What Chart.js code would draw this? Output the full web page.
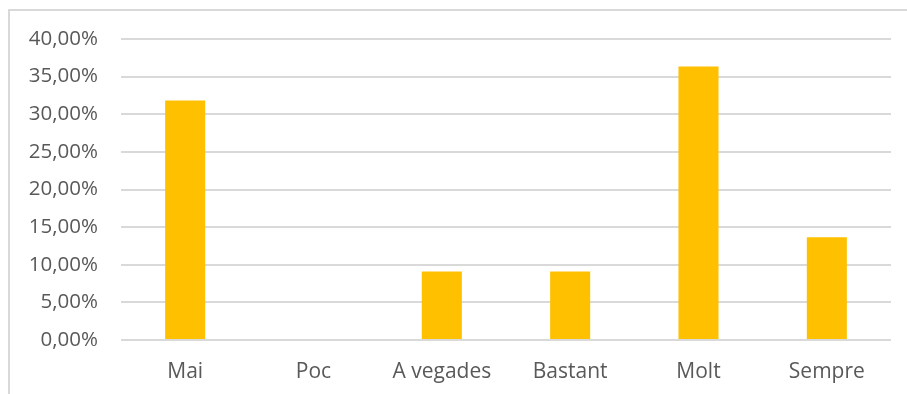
<!DOCTYPE html>
<html lang="ca">
<head>
  <meta charset="UTF-8">
  <title>Freqüència</title>
  <style>
    html, body { margin: 0; padding: 0; background: #fff; }
    #wrap { position: relative; width: 907px; height: 394px; overflow: hidden; }
    #frame {
      position: absolute; left: 8px; top: 9px; width: 920px; height: 420px;
      border-top: 2px solid #d9d9d9; border-left: 2px solid #d9d9d9;
    }
    canvas { position: absolute; left: 0; top: 0; }
  </style>
</head>
<body>
  <div id="wrap">
    <div id="frame"></div>
    <canvas id="myChart" width="907" height="394"></canvas>
  </div>
  <script src="https://cdn.jsdelivr.net/npm/chart.js"></script>
  <script>
    const categories = ['Mai', 'Poc', 'A vegades', 'Bastant', 'Molt', 'Sempre'];
    const percents = [31.82, 0, 9.09, 9.09, 36.36, 13.64];
    const yTicks = [0, 5, 10, 15, 20, 25, 30, 35, 40];

    const ctx = document.getElementById('myChart');

    new Chart(ctx, {
      type: 'bar',
      data: {
        labels: categories,
        datasets: [{
          data: percents,
          backgroundColor: '#FFC000',
          categoryPercentage: 1,
          barPercentage: 0.312
        }]
      },
      options: {
        responsive: false,
        animation: false,
        layout: { padding: { left: 0, right: 16, top: 39, bottom: 0 } },
        plugins: {
          legend: { display: false },
          tooltip: { enabled: false }
        },
        scales: {
          x: {
            grid: { display: false },
            border: { display: false },
            ticks: {
              color: '#595959',
              font: { family: 'Open Sans', size: 21 },
              padding: 11,
              maxRotation: 0
            },
            afterFit: s => { s.height = 54; }
          },
          y: {
            min: 0,
            max: 40,
            afterBuildTicks: s => { s.ticks = yTicks.map(v => ({ value: v })); },
            grid: { color: '#d9d9d9', lineWidth: 2, drawTicks: false },
            border: { display: false },
            ticks: {
              color: '#595959',
              font: { family: 'Open Sans', size: 20.5 },
              padding: 23,
              callback: v => v.toFixed(2).replace('.', ',') + '%'
            },
            afterFit: s => { s.width = 121; }
          }
        }
      }
    });
  </script>
</body>
</html>
